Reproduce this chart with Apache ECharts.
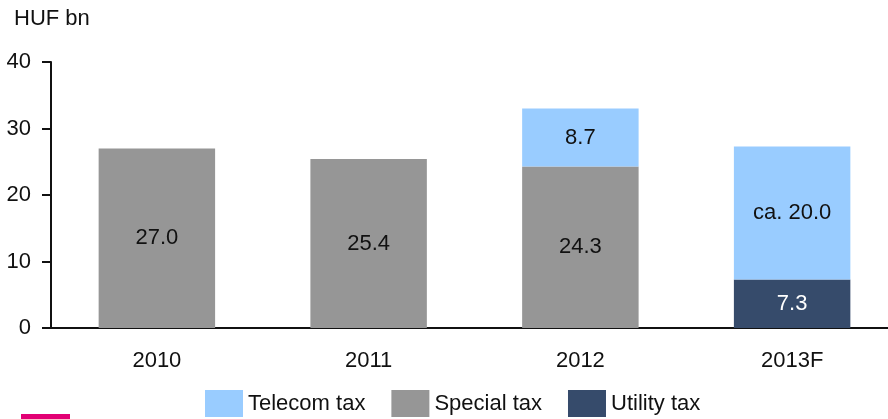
<!DOCTYPE html>
<html>
<head>
<meta charset="utf-8">
<script src="https://cdn.jsdelivr.net/npm/echarts@6/dist/echarts.min.js"></script>
<style>
  html, body { margin: 0; padding: 0; background: #fff; }
  #main { width: 888px; height: 419px; }
</style>
</head>
<body>
<div id="main"></div>
<script>
var years = ["2010", "2011", "2012", "2013F"];
var utilityTax = [null, null, null, 7.3];
var specialTax = [27.0, 25.4, 24.3, null];
var telecomTax = [null, null, 8.7, 20.0];
var telecomLabels = ["", "", "8.7", "ca. 20.0"];

var font = "'Liberation Sans Narrow', 'Liberation Sans', sans-serif";
var fs = 22;

var myChart = echarts.init(document.getElementById("main"));

var option = {
  animation: false,
  textStyle: { fontFamily: font },
  grid: { left: 51, right: -10, top: 62, bottom: 91, outerBoundsMode: "none" },
  legend: {
    bottom: -3,
    left: 200,
    itemWidth: 38,
    itemHeight: 27,
    itemGap: 26,
    icon: "rect",
    textStyle: { fontFamily: font, fontSize: fs, color: "#111" },
    data: ["Telecom tax", "Special tax", "Utility tax"],
  },
  xAxis: {
    type: "category",
    data: years,
    axisLine: { lineStyle: { color: "#111", width: 2 } },
    axisTick: { show: false },
    axisLabel: { fontFamily: font, fontSize: fs, color: "#111", margin: 22 },
  },
  yAxis: {
    type: "value",
    min: 0,
    max: 40,
    interval: 10,
    name: "HUF bn",
    nameLocation: "end",
    nameGap: 32,
    nameTextStyle: { fontFamily: font, fontSize: fs, color: "#111", align: "left", padding: [0, 0, 0, -37] },
    splitLine: { show: false },
    axisLine: { show: true, lineStyle: { color: "#111", width: 2 } },
    axisTick: { show: true, inside: false, length: 9, lineStyle: { color: "#111", width: 2 } },
    axisLabel: { fontFamily: font, fontSize: fs, color: "#111", margin: 20 },
  },
  series: [
    {
      name: "Utility tax",
      type: "bar",
      stack: "a",
      barWidth: "55%",
      data: utilityTax,
      itemStyle: { color: "#364B6B" },
      label: { show: true, position: "inside", color: "#fff", fontSize: fs, fontFamily: font },
    },
    {
      name: "Special tax",
      type: "bar",
      stack: "a",
      data: specialTax,
      itemStyle: { color: "#969696" },
      label: {
        show: true,
        position: "inside",
        color: "#111",
        fontSize: fs,
        fontFamily: font,
        formatter: function (p) { return p.value.toFixed(1); },
      },
    },
    {
      name: "Telecom tax",
      type: "bar",
      stack: "a",
      data: telecomTax,
      itemStyle: { color: "#99CCFF" },
      label: {
        show: true,
        position: "inside",
        color: "#111",
        fontSize: fs,
        fontFamily: font,
        formatter: function (p) { return telecomLabels[p.dataIndex]; },
      },
    },
  ],
  graphic: [
    { type: "rect", left: 21, top: 414, shape: { width: 49, height: 5 }, style: { fill: "#E20074" } },
  ],
};

myChart.setOption(option);
</script>
</body>
</html>
